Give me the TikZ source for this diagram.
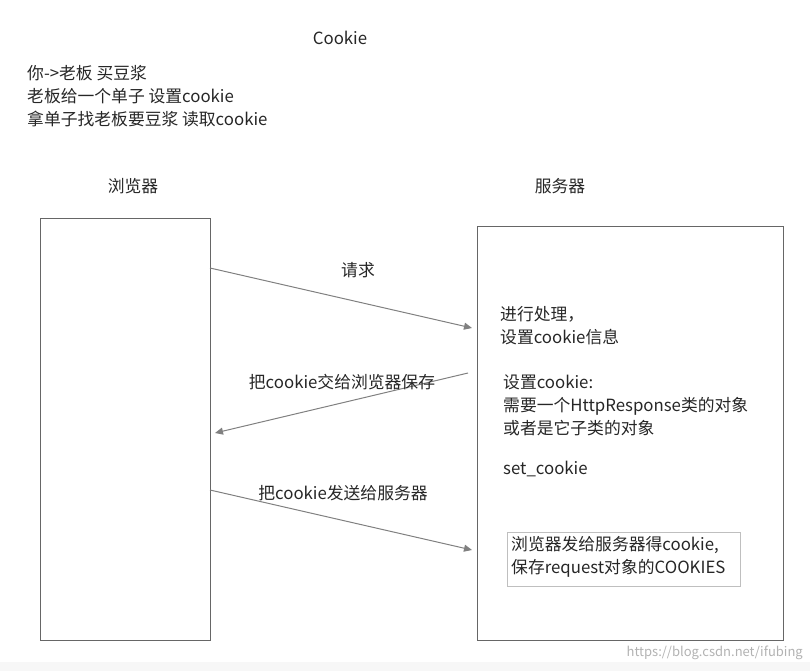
\documentclass[tikz,border=0pt]{standalone}
\usepackage{fontspec}
\setmainfont{Noto Sans CJK SC}
\usetikzlibrary{arrows.meta}
\begin{document}
\begin{tikzpicture}[x=1pt,y=-1pt,
  txt/.style={anchor=west,inner sep=0pt,font=\fontsize{16.8}{23.3}\selectfont,align=left,text=black!85},
  arr/.style={draw=black!50,line width=1pt,-{Triangle[length=8pt,width=7pt]}}]
\useasboundingbox (0,0) rectangle (810,671);
\fill[black!3] (0,662) rectangle (810,671);
\node[txt,anchor=center] (title) at (340,38) {Cookie};
\node[txt,anchor=north west] (story) at (27,65) {你->老板 买豆浆\\老板给一个单子 设置cookie\\拿单子找老板要豆浆 读取cookie};
\node[txt,anchor=center] (bl) at (133,186) {浏览器};
\node[txt,anchor=center] (sv) at (560,186) {服务器};
\draw[black!60,line width=0.8pt] (40,218) rectangle (210,640);
\draw[black!60,line width=0.8pt] (477,226) rectangle (783,640);
\coordinate (a1) at (210,268); \coordinate (b1) at (472,328);
\coordinate (a2) at (468,373); \coordinate (b2) at (215,433);
\coordinate (a3) at (210,490); \coordinate (b3) at (472,550);
\draw[arr] (a1) -- (b1);
\draw[arr] (a2) -- (b2);
\draw[arr] (a3) -- (b3);
\node[txt,anchor=center] (l1) at (358,270) {请求};
\node[txt,anchor=center] (l2) at (342,382) {把cookie交给浏览器保存};
\node[txt,anchor=center] (l3) at (343,493) {把cookie发送给服务器};
\node[txt,anchor=north west] (p1) at (500,306) {进行处理，\\设置cookie信息};
\node[txt,anchor=north west] (p2) at (503,374) {设置cookie:\\需要一个HttpResponse类的对象\\或者是它子类的对象};
\node[txt] (p3) at (503,469) {set\_cookie};
\draw[black!25,line width=0.6pt] (507,532) rectangle (740,586);
\node[txt,anchor=north west] (p4) at (511,536) {浏览器发给服务器得cookie,\\保存request对象的COOKIES};
\node[anchor=east,inner sep=0pt,text=black!30,font=\fontsize{13}{15}\selectfont] (wm) at (803,653) {https://blog.csdn.net/ifubing};
\end{tikzpicture}
\end{document}
